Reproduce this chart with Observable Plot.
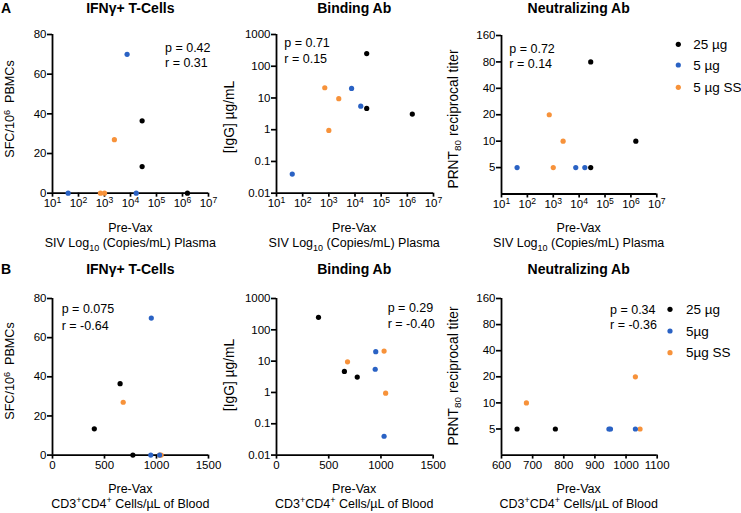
<!DOCTYPE html>
<html><head><meta charset="utf-8">
<script src="https://cdn.jsdelivr.net/npm/d3@7"></script>
<script src="https://cdn.jsdelivr.net/npm/@observablehq/plot@0.6"></script>
<style>
body{margin:0;background:#fff;}
#root{position:relative;width:741px;height:513px;overflow:hidden;font-family:"Liberation Sans",Arial,Helvetica,sans-serif;}
#root svg{position:absolute;overflow:visible;}
</style></head><body><div id="root"></div>
<script>
// ---- data (one entry per animal) ----
const animals   = ["K1","K2","K3","U1","U2","U3","O1","O2","O3"];
const group     = ["25 µg","25 µg","25 µg","5 µg","5 µg","5 µg","5 µg SS","5 µg SS","5 µg SS"];
const sivCopies = [28000, 28000, 1550000, 7400, 16600, 40, 2400, 700, 1000];
const cd4Count  = [402, 650, 773, 950, 945, 1030, 680, 1030, 1045];
const ifnSfc    = [13.4, 36.5, 0, 70, 0, 0, 27, 0, 0];
const iggUgMl   = [250, 4.7, 3.1, 20, 5.5, 0.04, 9.5, 21, 0.95];
const prntVsSiv = [80, 5, 10, 5, 5, 5, 10, 20, 5];
const prntVsCd4 = [80, 5, 5, 5, 5, 5, 10, 20, 5];

const groupNames  = ["25 µg","5 µg","5 µg SS"];
const groupColors = ["#000000","#2a62c4","#f7923a"];
const legendLabelsA = ["25 µg","5 µg","5 µg SS"];
const legendLabelsB = ["25 µg","5µg","5µg SS"];

const sivTicks = [10,100,1e3,1e4,1e5,1e6,1e7];
const cd4TicksWide = [0,500,1000,1500];
const cd4TicksNarrow = [600,700,800,900,1000,1100];
const ifnTicks = [0,20,40,60,80];
const iggTicks = [0.01,0.1,1,10,100,1000];
const prntTicks = [5,10,20,40,80,160];

const statsP = ["p = 0.42","p = 0.71","p = 0.72","p = 0.075","p = 0.29","p = 0.34"];
const statsR = ["r = 0.31","r = 0.15","r = 0.14","r = -0.64","r = -0.40","r = -0.36"];
const titles = ["IFNγ+ T-Cells","Binding Ab","Neutralizing Ab"];

// ---- table ----
const order = {"5 µg SS":0,"5 µg":1,"25 µg":2};
const rows = animals.map((id,i)=>({id, group:group[i], siv:sivCopies[i], cd4:cd4Count[i],
  ifn:ifnSfc[i], igg:iggUgMl[i], prntA:prntVsSiv[i], prntB:prntVsCd4[i]}))
  .sort((a,b)=>order[a.group]-order[b.group]);

const FONT = '"Liberation Sans", Arial, Helvetica, sans-serif';
const root = document.getElementById("root");
const ml=46, mr=22, mt=12, mb=26;

function makePanel(c){
  const [x0,x1]=c.xr, [yb,yt]=c.yr;
  const width = x1-x0+ml+mr, height = yb-yt+mt+mb;
  const svg = Plot.plot({
    width, height, marginLeft:ml, marginRight:mr, marginTop:mt, marginBottom:mb,
    style:{fontFamily:FONT, fontSize:"11.5px", color:"#000", background:"transparent", overflow:"visible"},
    x: c.x, y: c.y,
    color:{domain:groupNames, range:groupColors},
    marks:[
      Plot.axisX(c.xTicks,{tickFormat:c.xFmt, tickSize:4, tickPadding:2, strokeWidth:1.7, label:null, fontSize:11.5}),
      Plot.axisY(c.yTicks,{tickFormat:c.yFmt, tickSize:5, tickPadding:1, strokeWidth:1.7, label:null, fontSize:11.5}),
      Plot.ruleX([c.x.domain[0]],{strokeWidth:1.8}),
      Plot.ruleY([c.y.domain[0]],{strokeWidth:1.8}),
      Plot.dot(rows,{x:c.xField, y:c.yField, fill:"group", r:2.6, filter:c.filter})
    ]
  });
  svg.style.left = (x0-ml)+"px";
  svg.style.top = (yt-mt)+"px";
  // superscript exponents on log ticks
  svg.querySelectorAll("text").forEach(t=>{
    const m = /^10\^(\d)$/.exec(t.textContent);
    if (m){
      t.textContent = "10";
      const ts = document.createElementNS("http://www.w3.org/2000/svg","tspan");
      ts.setAttribute("dy","-0.45em"); ts.setAttribute("font-size","0.75em");
      ts.textContent = m[1];
      t.appendChild(ts);
    }
  });
  root.appendChild(svg);
}

const fmtPow = d => "10^" + Math.round(Math.log10(d));
const fmtNum = d => String(d);

makePanel({xr:[52.3,208.3], yr:[193,34.3], x:{type:"log",domain:[10,1e7]}, y:{type:"linear",domain:[0,80]},
  xTicks:sivTicks, yTicks:ifnTicks, xFmt:fmtPow, yFmt:fmtNum, xField:"siv", yField:"ifn"});
makePanel({xr:[275.7,432.7], yr:[193,34.3], x:{type:"log",domain:[10,1e7]}, y:{type:"log",domain:[0.01,1000]},
  xTicks:sivTicks, yTicks:iggTicks, xFmt:fmtPow, yFmt:fmtNum, xField:"siv", yField:"igg"});
makePanel({xr:[501,656.3], yr:[193,34.5], x:{type:"log",domain:[10,1e7]}, y:{type:"log",base:2,domain:[2.5,160]},
  xTicks:sivTicks, yTicks:prntTicks, xFmt:fmtPow, yFmt:fmtNum, xField:"siv", yField:"prntA"});
makePanel({xr:[52.3,208.3], yr:[454.3,297.7], x:{type:"linear",domain:[0,1500]}, y:{type:"linear",domain:[0,80]},
  xTicks:cd4TicksWide, yTicks:ifnTicks, xFmt:fmtNum, yFmt:fmtNum, xField:"cd4", yField:"ifn"});
makePanel({xr:[276,432.7], yr:[454.3,297.7], x:{type:"linear",domain:[0,1500]}, y:{type:"log",domain:[0.01,1000]},
  xTicks:cd4TicksWide, yTicks:iggTicks, xFmt:fmtNum, yFmt:fmtNum, xField:"cd4", yField:"igg"});
makePanel({xr:[501,656.7], yr:[454.3,297.7], x:{type:"linear",domain:[600,1100]}, y:{type:"log",base:2,domain:[2.5,160]},
  xTicks:cd4TicksNarrow, yTicks:prntTicks, xFmt:fmtNum, yFmt:fmtNum, xField:"cd4", yField:"prntB",
  filter: d => d.cd4 >= 600 && d.cd4 <= 1100});

// ---- overlay text ----
const ov = d3.create("svg").attr("width",741).attr("height",513)
  .style("left","0px").style("top","0px").attr("font-family",FONT).attr("fill","#000");

function rich(t, parts){
  let shift = 0;
  for (const [s, mode] of parts){
    const target = mode==="sup" ? -4.5 : mode==="sub" ? 3.5 : 0;
    const ts = t.append("tspan").text(s);
    if (target - shift !== 0) ts.attr("dy", target - shift);
    if (mode) ts.attr("font-size","0.72em");
    shift = target;
  }
}
function txt(x,y,s,size,opts={}){
  const t = ov.append("text").attr("x",x).attr("y",y).attr("font-size",size)
    .attr("text-anchor",opts.anchor||"start").attr("font-weight",opts.bold?"bold":null)
    .attr("xml:space","preserve");
  if (Array.isArray(s)) rich(t,s); else t.text(s);
  return t;
}
function ylab(x,y,parts,size){
  const t = ov.append("text").attr("transform",`translate(${x},${y}) rotate(-90)`)
    .attr("text-anchor","middle").attr("font-size",size).attr("xml:space","preserve");
  rich(t,parts);
}

// panel letters and titles
txt(1,12.5,"A",14,{bold:true});
txt(1,273.5,"B",14,{bold:true});
const cx = [130.3, 354.2, 578.7];
const rowTitleY = [12.5, 273.5];
rowTitleY.forEach(y=>titles.forEach((s,i)=>txt(cx[i],y,s,14,{bold:true,anchor:"middle"})));

// y labels
const sfc = [["SFC/10"],["6","sup"],["  PBMCs"]];
const igg = [["[IgG] µg/mL"]];
const prnt = [["PRNT"],["80","sub"],[" reciprocal titer"]];
ylab(14,109,sfc,12.6); ylab(233.5,117,igg,13.8); ylab(457.5,119,prnt,13.8);
ylab(14,371,sfc,12.6); ylab(233.5,375,igg,13.8); ylab(457.5,376,prnt,13.8);

// x labels
const sivLab = [["SIV Log"],["10","sub"],[" (Copies/mL) Plasma"]];
const cd4Lab = [["CD3"],["+","sup"],["CD4"],["+","sup"],[" Cells/µL of Blood"]];
cx.forEach(x=>{ txt(x,231.5,"Pre-Vax",12.5,{anchor:"middle"}); txt(x,247,sivLab,12.5,{anchor:"middle"}); });
cx.forEach(x=>{ txt(x,493,"Pre-Vax",12.5,{anchor:"middle"}); txt(x,507.5,cd4Lab,12.5,{anchor:"middle"}); });

// stats
const statPos = [[165,51.7,66.7],[284.3,46.7,62.5],[509.3,52.5,67.7],[61.7,313.3,329.5],[387.7,312.3,327.7],[610,313.7,329]];
statPos.forEach(([x,y1,y2],i)=>{ txt(x,y1,statsP[i],12.5); txt(x,y2,statsR[i],12.5); });

// legends
function legend(x,tx,ys,labels){
  labels.forEach((s,i)=>{
    ov.append("circle").attr("cx",x).attr("cy",ys[i]).attr("r",2.6).attr("fill",groupColors[i]);
    txt(tx,ys[i]+4.6,s,13.5);
  });
}
legend(678.3,693.3,[44.3,65,87.3],legendLabelsA);
legend(670,686,[309.3,331,352.7],legendLabelsB);

root.appendChild(ov.node());
</script></body></html>
